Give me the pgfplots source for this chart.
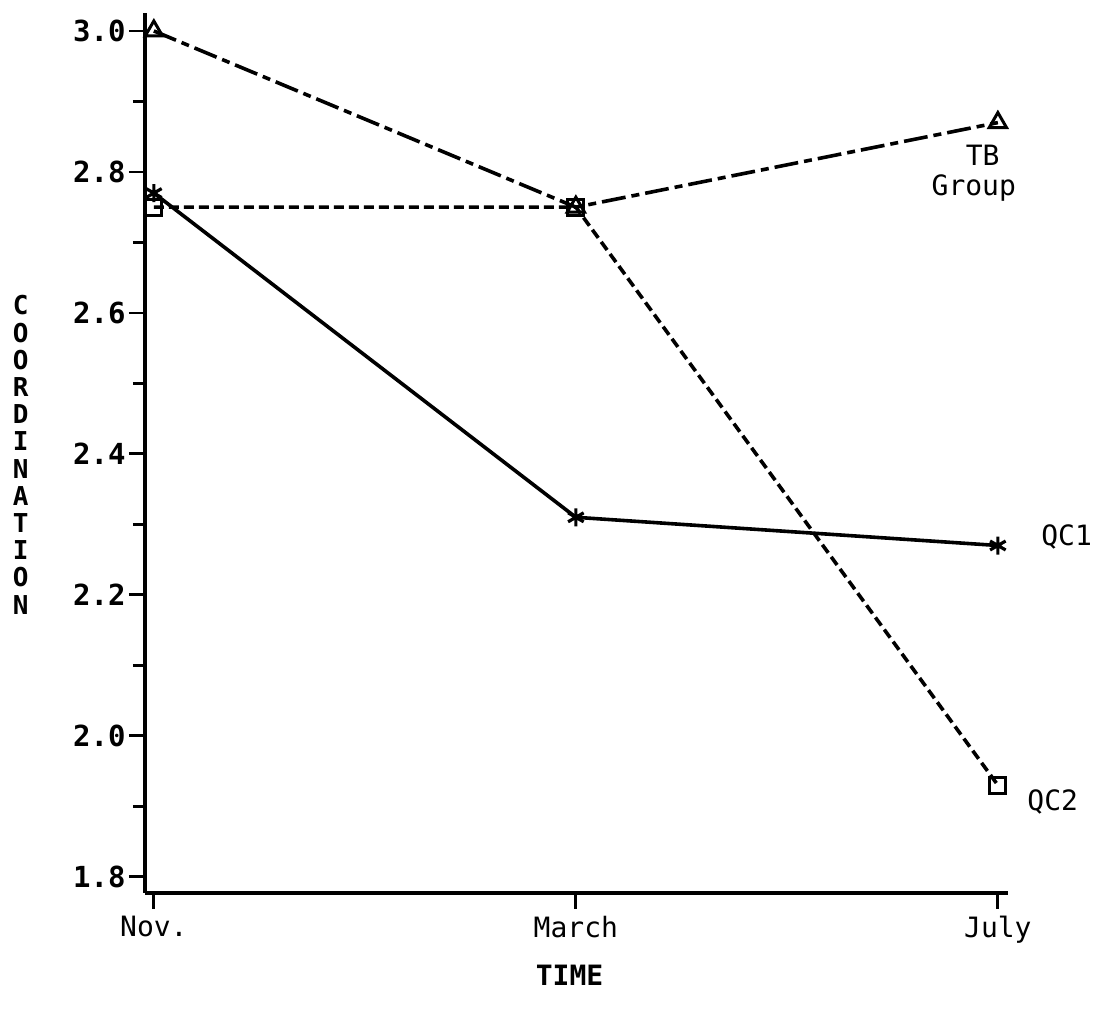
\documentclass[border=0pt]{standalone}
\usepackage{pgfplots}
\pgfplotsset{compat=1.18}
\usepackage{fontspec}
\setmainfont{DejaVu Sans Mono}
\usetikzlibrary{plotmarks}
\begin{document}
\begin{tikzpicture}
\path[use as bounding box] (-72.5pt,-58.5pt) rectangle (476pt,446.5pt);
\begin{axis}[
  at={(0,0)}, anchor=south west,
  scale only axis, width=431.5pt, height=440pt,
  xmin=-0.021, xmax=2.024, ymin=1.777, ymax=3.0255,
  clip=false,
  axis lines=left,
  axis line style={-, line width=1.6pt},
  xtick={0,1,2}, xticklabels={Nov.,March,July},
  ytick={1.8,2.0,2.2,2.4,2.6,2.8,3.0},
  yticklabels={1.8,2.0,2.2,2.4,2.6,2.8,3.0},
  minor ytick={1.9,2.1,2.3,2.5,2.7,2.9},
  tick align=outside,
  major tick length=8pt, minor tick length=6pt,
  every tick/.style={black, line width=1.4pt},
  yticklabel style={font=\fontsize{14.5}{16}\selectfont\bfseries, inner sep=1.5pt},
  xticklabel style={font=\fontsize{14}{16}\selectfont},
  xlabel={TIME},
  every axis x label/.style={at={(axis description cs:0.492,-0.093)}, anchor=center, font=\fontsize{14}{16}\selectfont\bfseries},
  ylabel={C\\O\\O\\R\\D\\I\\N\\A\\T\\I\\O\\N},
  every axis y label/.style={at={(axis description cs:-0.144,0.498)}, anchor=center, align=center, font=\fontsize{13}{13.6}\selectfont\bfseries},
]
\addplot[black, line width=1.8pt, dash pattern=on 12pt off 3pt on 4pt off 3pt,
  mark=triangle, mark size=5pt, mark options={solid, line width=1.5pt}]
  coordinates {(0,3.0) (1,2.75) (2,2.87)};
\addplot[black, line width=1.8pt,
  mark=asterisk, mark size=4.5pt, mark options={solid, line width=1.6pt}]
  coordinates {(0,2.77) (1,2.31) (2,2.27)};
\addplot[black, line width=1.8pt, dash pattern=on 5pt off 2.5pt,
  mark=square, mark size=4pt, mark options={solid, line width=1.6pt}]
  coordinates {(0,2.75) (1,2.75) (2,1.93)};
\node[font=\fontsize{14}{16}\selectfont] at (axis cs:1.964,2.823) {TB};
\node[font=\fontsize{14}{16}\selectfont] at (axis cs:1.943,2.777) {Group};
\node[font=\fontsize{14}{16}\selectfont] at (axis cs:2.163,2.282) {QC1};
\node[font=\fontsize{14}{16}\selectfont] at (axis cs:2.130,1.906) {QC2};
\end{axis}
\end{tikzpicture}
\end{document}
